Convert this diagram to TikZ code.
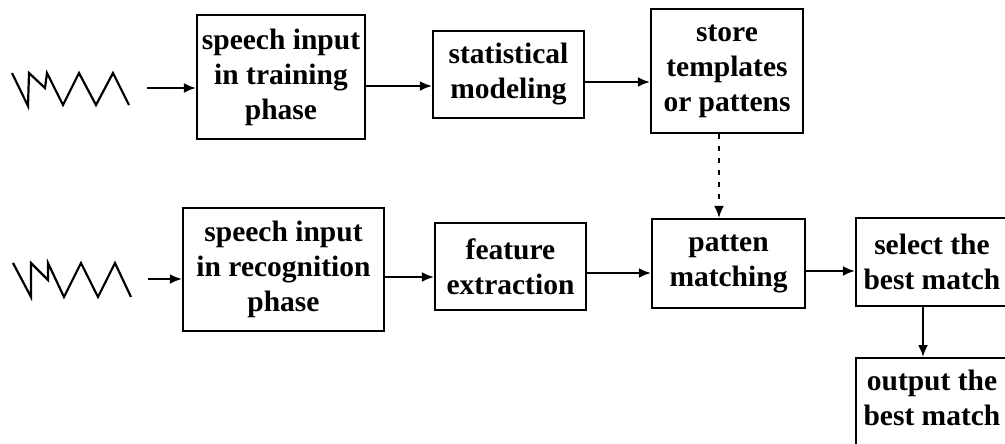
\documentclass[tikz,border=0pt]{standalone}
\usepackage{fontspec}
\setmainfont{Liberation Serif}
\usetikzlibrary{arrows.meta}
\begin{document}
\begin{tikzpicture}[x=1pt,y=-1pt,
  box/.style={draw, line width=2.2pt, align=center, inner sep=0pt,
    font=\bfseries\fontsize{29.5}{35}\selectfont},
  arr/.style={line width=2.2pt, -{Latex[length=12pt,width=10pt]}},
  dotarr/.style={arr, dash pattern=on 5pt off 7pt},
  wave/.style={line width=2.2pt, line join=miter}]
\clip (0,0) rectangle (1005,444);
\fill[white] (0,0) rectangle (1005,444);

% training row
\node[box, minimum width=168pt, minimum height=124pt] (b1) at (281,77) {speech input\\in training\\phase};
\node[box, minimum width=151pt, minimum height=87pt] (b2) at (508.5,74.5) {statistical\\modeling};
\node[box, minimum width=152pt, minimum height=124pt] (b3) at (727,71) {store\\templates\\or pattens};

% recognition row
\node[box, minimum width=201pt, minimum height=123pt] (r1) at (283.5,269.5) {speech input\\in recognition\\phase};
\node[box, minimum width=151pt, minimum height=87pt] (r2) at (510.5,266.5) {feature\\extraction};
\node[box, minimum width=153pt, minimum height=89pt] (r3) at (728.5,263.5) {patten\\matching};
\node[box, minimum width=152pt, minimum height=88pt] (r4) at (932,262) {select the\\best match};
% the last box runs on below the lower edge
\node[box, minimum width=152pt, anchor=north, inner ysep=12pt] (r5) at (932,357)
  {output the\\best match\rule[-16pt]{0pt}{1pt}};

% input waveforms
\draw[wave] (12,73) -- (28,106) -- (29,73) -- (45,88) -- (47,73) -- (63,105)
  -- (79,73) -- (96,105) -- (113,73) -- (129,105);
\draw[wave] (13,263) -- (31,297) -- (31,263) -- (48,280) -- (48,263) -- (64,297)
  -- (81,263) -- (98,297) -- (115,263) -- (131,297);
\coordinate (w1) at (147,88);
\coordinate (w2) at (148,279);

% connectors
\draw[arr] (w1) -- (b1.west |- w1);
\draw[arr] (b1.east |- 0,86) -- (b2.west |- 0,86);
\draw[arr] (b2.east |- 0,82) -- (b3.west |- 0,82);
\draw[dotarr] (b3.south -| 719,0) -- (r3.north -| 719,0);
\draw[arr] (w2) -- (r1.west |- w2);
\draw[arr] (r1.east |- 0,277) -- (r2.west |- 0,277);
\draw[arr] (r2.east |- 0,273) -- (r3.west |- 0,273);
\draw[arr] (r3.east |- 0,271) -- (r4.west |- 0,271);
\draw[arr] (r4.south -| 923,0) -- (r5.north -| 923,0);
\end{tikzpicture}
\end{document}
